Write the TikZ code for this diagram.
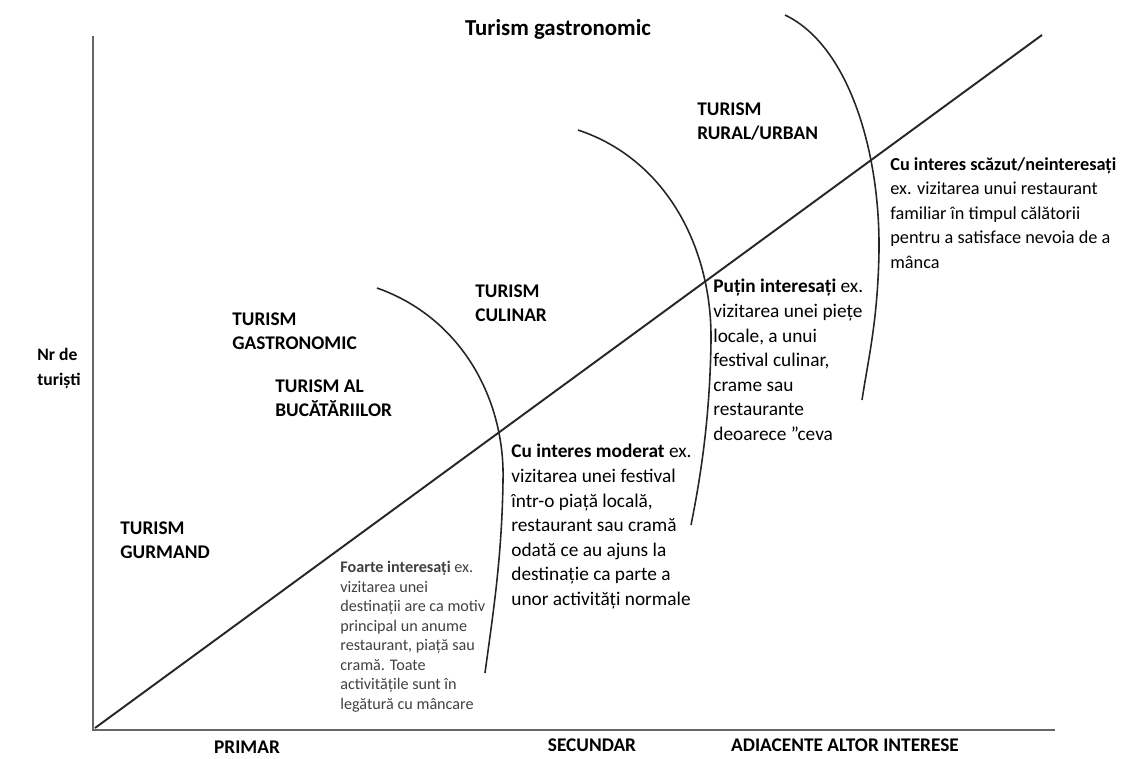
\documentclass[tikz,border=0pt]{standalone}
\usepackage{fontspec}
\setmainfont{Carlito}
\usetikzlibrary{positioning,calc}

\begin{document}
\begin{tikzpicture}[x=0.02cm,y=-0.02cm,
    axis/.style={draw=black!60,line width=1.4pt},
    curve/.style={draw=black!85,line width=0.9pt},
    txt/.style={inner sep=0pt,anchor=north west,align=left,font=\fontsize{11}{14}\selectfont},
    small/.style={txt,text=black!75,font=\fontsize{9.2}{11.1}\selectfont},
    kind/.style={txt,font=\fontsize{11}{14.2}\selectfont\bfseries},
    level/.style={inner sep=0pt,font=\fontsize{11}{13}\selectfont\bfseries}]
    \useasboundingbox (0,0) rectangle (1125,758);
    % axes
    \coordinate (O) at (93,730);
    \coordinate (Ytop) at (93,36);
    \coordinate (Xend) at (1055,730);
    \coordinate (Dstart) at (95,728);
    \coordinate (Dend) at (1042,35);
    \draw[axis] (Ytop) -- (O) -- (Xend);
    \draw[curve,line width=1.1pt] (Dstart) -- (Dend);
    % interest boundaries
    \coordinate (c1top) at (377,288);
    \coordinate (c1mid) at (503,480);
    \coordinate (c1bot) at (485,673);
    \coordinate (c2top) at (578,130);
    \coordinate (c2mid) at (711,340);
    \coordinate (c2bot) at (691,525);
    \coordinate (c3top) at (785,15);
    \coordinate (c3mid) at (879,250);
    \coordinate (c3bot) at (862,400);
    \draw[curve] (c1top) .. controls (462,318) and (505,400) .. (c1mid)
        .. controls (502,560) and (492,620) .. (c1bot);
    \draw[curve] (c2top) .. controls (668,160) and (712,250) .. (c2mid)
        .. controls (710,420) and (700,480) .. (c2bot);
    \draw[curve] (c3top) .. controls (848,45) and (880,150) .. (c3mid)
        .. controls (878,320) and (868,360) .. (c3bot);
    % labels
    \node[inner sep=0pt,anchor=base,font=\fontsize{13}{15}\selectfont\bfseries] (title) at (558,35) {Turism gastronomic};
    \node[kind,font=\fontsize{10}{14.2}\selectfont\bfseries] (ylabel) at (37,348) {Nr de\\turiști};
    \node[kind] (gastro) at (232,312) {TURISM\\GASTRONOMIC};
    \node[kind] (bucat) at (275,379) {TURISM AL\\BUCĂTĂRIILOR};
    \node[kind] (culinar) at (475,284) {TURISM\\CULINAR};
    \node[kind] (rural) at (697,102) {TURISM\\RURAL/URBAN};
    \node[kind] (gurmand) at (120,521) {TURISM\\GURMAND};
    \node[small] (foarte) at (340,561) {\textbf{Foarte interesați} ex.\\vizitarea unei\\destinații are ca motiv\\principal un anume\\restaurant, piață sau\\cramă. Toate\\activitățile sunt în\\legătură cu mâncare};
    \node[txt] (moderat) at (511,444) {\textbf{Cu interes moderat} ex.\\vizitarea unei festival\\într-o piață locală,\\restaurant sau cramă\\odată ce au ajuns la\\destinație ca parte a\\unor activități normale};
    \node[txt] (putin) at (713,279) {\textbf{Puțin interesați} ex.\\vizitarea unei piețe\\locale, a unui\\festival culinar,\\crame sau\\restaurante\\deoarece ”ceva};
    \node[txt,font=\fontsize{10.4}{14}\selectfont] (scazut) at (890,157) {\textbf{Cu interes scăzut/neinteresați}\\ex. vizitarea unui restaurant\\familiar în timpul călătorii\\pentru a satisface nevoia de a\\mânca};
    \node[level] (primar) at (247,747) {PRIMAR};
    \node[level] (secundar) at (592,745) {SECUNDAR};
    \node[level] (adiacent) at (845,745) {ADIACENTE ALTOR INTERESE};
\end{tikzpicture}
\end{document}
